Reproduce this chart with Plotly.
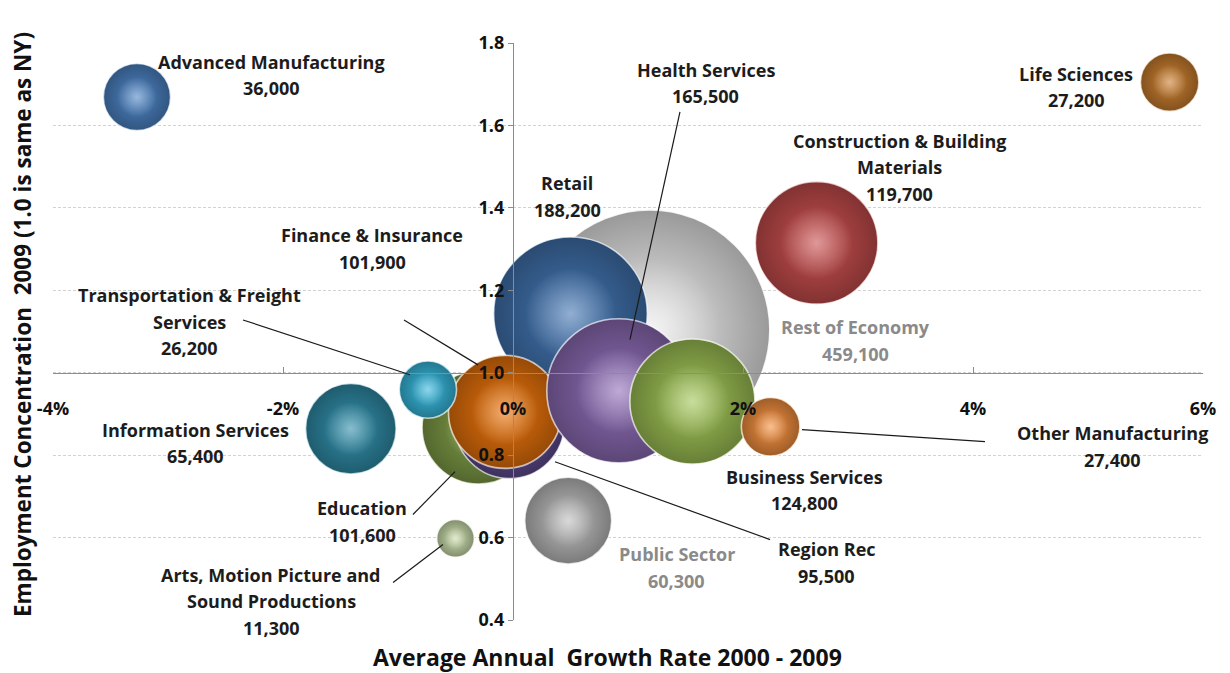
import plotly.graph_objects as go

# ---- data -------------------------------------------------------------
# drawing order (back to front)
sectors = [
    "Rest of Economy", "Retail", "Education", "Region Rec",
    "Finance & Insurance", "Health Services", "Business Services",
    "Construction & Building Materials", "Transportation & Freight Services",
    "Information Services", "Public Sector",
    "Arts, Motion Picture and Sound Productions", "Other Manufacturing",
    "Advanced Manufacturing", "Life Sciences",
]
# average annual growth rate 2000-2009, in percent
growth_pct = [1.19, 0.50, -0.30, -0.03, -0.07, 0.92, 1.56, 2.64, -0.74,
              -1.41, 0.48, -0.50, 2.24, -3.27, 5.71]
# employment concentration 2009 (1.0 = same as NY)
concentration = [1.104, 1.143, 0.867, 0.876, 0.905, 0.956, 0.930, 1.315,
                 0.959, 0.864, 0.641, 0.598, 0.869, 1.669, 1.705]
# employment (bubble size)
employment = [459100, 188200, 101600, 95500, 101900, 165500, 124800, 119700,
              26200, 65400, 60300, 11300, 27400, 36000, 27200]

x_ticks = [-4, -2, 0, 2, 4, 6]
x_tick_labels = ["-4%", "-2%", "0%", "2%", "4%", "6%"]
y_ticks = [0.4, 0.6, 0.8, 1.0, 1.2, 1.4, 1.6, 1.8]

# ---- styling ----------------------------------------------------------
body_colors = {
    "Rest of Economy": "#ededed",
    "Retail": "#4274b0",
    "Education": "#819f48",
    "Region Rec": "#624e92",
    "Finance & Insurance": "#e8730c",
    "Health Services": "#8e6db6",
    "Business Services": "#a0c456",
    "Construction & Building Materials": "#c84e4e",
    "Transportation & Freight Services": "#38b8dc",
    "Information Services": "#318eaa",
    "Public Sector": "#bdbdbd",
    "Arts, Motion Picture and Sound Productions": "#c9dbab",
    "Other Manufacturing": "#f39040",
    "Advanced Manufacturing": "#4d84c4",
    "Life Sciences": "#c97e30",
}
label_lines = {
    "Construction & Building Materials": ["Construction & Building", "Materials"],
    "Transportation & Freight Services": ["Transportation & Freight", "Services"],
    "Arts, Motion Picture and Sound Productions": ["Arts, Motion Picture and", "Sound Productions"],
}
# label block centres (growth %, concentration)
label_pos = {
    "Rest of Economy": (2.974, 1.078),
    "Retail": (0.470, 1.427),
    "Education": (-1.313, 0.639),
    "Region Rec": (2.730, 0.539),
    "Finance & Insurance": (-1.226, 1.301),
    "Health Services": (1.678, 1.703),
    "Business Services": (2.539, 0.716),
    "Construction & Building Materials": (3.365, 1.499),
    "Transportation & Freight Services": (-2.809, 1.124),
    "Information Services": (-2.765, 0.830),
    "Public Sector": (1.426, 0.527),
    "Arts, Motion Picture and Sound Productions": (-2.104, 0.445),
    "Other Manufacturing": (5.217, 0.821),
    "Advanced Manufacturing": (-2.104, 1.722),
    "Life Sciences": (4.896, 1.693),
}
grey_labels = {"Rest of Economy", "Public Sector"}
# leader lines: (x0, y0, x1, y1)
leaders = [
    (-2.348, 1.128, -0.896, 0.995),
    (-0.948, 1.128, -0.304, 1.019),
    (1.452, 1.633, 1.017, 1.080),
    (-0.870, 0.656, -0.504, 0.760),
    (-1.043, 0.491, -0.609, 0.583),
    (0.365, 0.784, 2.235, 0.595),
    (2.513, 0.862, 4.104, 0.833),
]

FONT = "'Open Sans', Lato, sans-serif"
MAX_DIAMETER = 240
# plotly: diameter = 2 * sqrt(size / (2 * sizeref)) in area mode
sizeref = 4 * max(employment) / (2.0 * MAX_DIAMETER ** 2)
LINE_GAP = 26.5

W, H = 1230, 673
ML, MR, MT, MB = 53, 27, 43, 53
PW, PH = W - ML - MR, H - MT - MB

fig = go.Figure()

for name, gx, cy, emp in zip(sectors, growth_pct, concentration, employment):
    col = body_colors[name]
    # flat body
    fig.add_trace(go.Scatter(
        x=[gx], y=[cy], mode="markers", hoverinfo="skip", showlegend=False,
        marker=dict(size=[emp], sizemode="area", sizeref=sizeref,
                    color=col, line=dict(width=0), opacity=1),
    ))
    # darkening toward the rim
    fig.add_trace(go.Scatter(
        x=[gx], y=[cy], mode="markers", hoverinfo="skip", showlegend=False,
        marker=dict(size=[emp], sizemode="area", sizeref=sizeref,
                    color="rgba(0,0,0,0.5)",
                    gradient=dict(type="radial", color="rgba(0,0,0,0)"),
                    line=dict(width=1.6, color="rgba(255,255,255,0.9)")),
    ))
    # soft specular glow
    fig.add_trace(go.Scatter(
        x=[gx], y=[cy], mode="markers", hoverinfo="skip", showlegend=False,
        marker=dict(size=[emp * 0.35], sizemode="area", sizeref=sizeref,
                    color="rgba(255,255,255,0)",
                    gradient=dict(type="radial", color="rgba(255,255,255,0.6)"),
                    line=dict(width=0)),
    ))

annotations = []
for name, emp in zip(sectors, employment):
    lines = label_lines.get(name, [name]) + [f"{emp:,}"]
    lx, ly = label_pos[name]
    n = len(lines)
    color = "#8a8a8a" if name in grey_labels else "#1c1c1c"
    for i, txt in enumerate(lines):
        annotations.append(dict(
            x=lx, y=ly, xref="x", yref="y", text=txt, showarrow=False,
            yshift=((n - 1) / 2 - i) * LINE_GAP,
            font=dict(family=FONT, size=18, color=color, weight="bold"),
            xanchor="center", yanchor="middle",
        ))

# axis titles, placed by pixel position within the page
annotations.append(dict(
    x=(607 - ML) / PW, y=((H - MB) - 657) / PH, xref="paper", yref="paper",
    text="Average Annual  Growth Rate 2000 - 2009", showarrow=False,
    font=dict(family=FONT, size=23, color="#111", weight="bold"),
    xanchor="center", yanchor="middle",
))
annotations.append(dict(
    x=(22 - ML) / PW, y=((H - MB) - 325) / PH, xref="paper", yref="paper",
    text="Employment Concentration  2009 (1.0 is same as NY)",
    showarrow=False, textangle=-90,
    font=dict(family=FONT, size=22.5, color="#111", weight="bold"),
    xanchor="center", yanchor="middle",
))

shapes = [
    dict(type="line", xref="x", yref="y", x0=a, y0=b, x1=c, y1=d,
         line=dict(color="#1a1a1a", width=1.2), layer="above")
    for a, b, c, d in leaders
]

fig.update_layout(
    width=W, height=H,
    margin=dict(l=ML, r=MR, t=MT, b=MB),
    paper_bgcolor="white", plot_bgcolor="white",
    annotations=annotations, shapes=shapes,
    xaxis=dict(
        range=[-4, 6], tickvals=x_ticks, ticktext=x_tick_labels,
        showgrid=False, zeroline=False,
        showline=True, linecolor="#8c8c8c", linewidth=1.2,
        ticks="inside", ticklen=6, tickcolor="#8c8c8c",
        anchor="free", position=(1.0 - 0.4) / (1.8 - 0.4),
        ticklabelstandoff=20,
        tickfont=dict(family=FONT, size=18, color="#111", weight="bold"),
    ),
    yaxis=dict(
        range=[0.4, 1.8], tickvals=y_ticks, tickformat=".1f",
        showgrid=True, gridcolor="#d2d2d2", griddash="3px,2px", gridwidth=1,
        zeroline=False,
        showline=True, linecolor="#8c8c8c", linewidth=1.2,
        ticks="outside", ticklen=5, tickcolor="#8c8c8c",
        anchor="free", position=0.4,
        tickfont=dict(family=FONT, size=18, color="#111", weight="bold"),
    ),
)

fig.write_html("out.html")
